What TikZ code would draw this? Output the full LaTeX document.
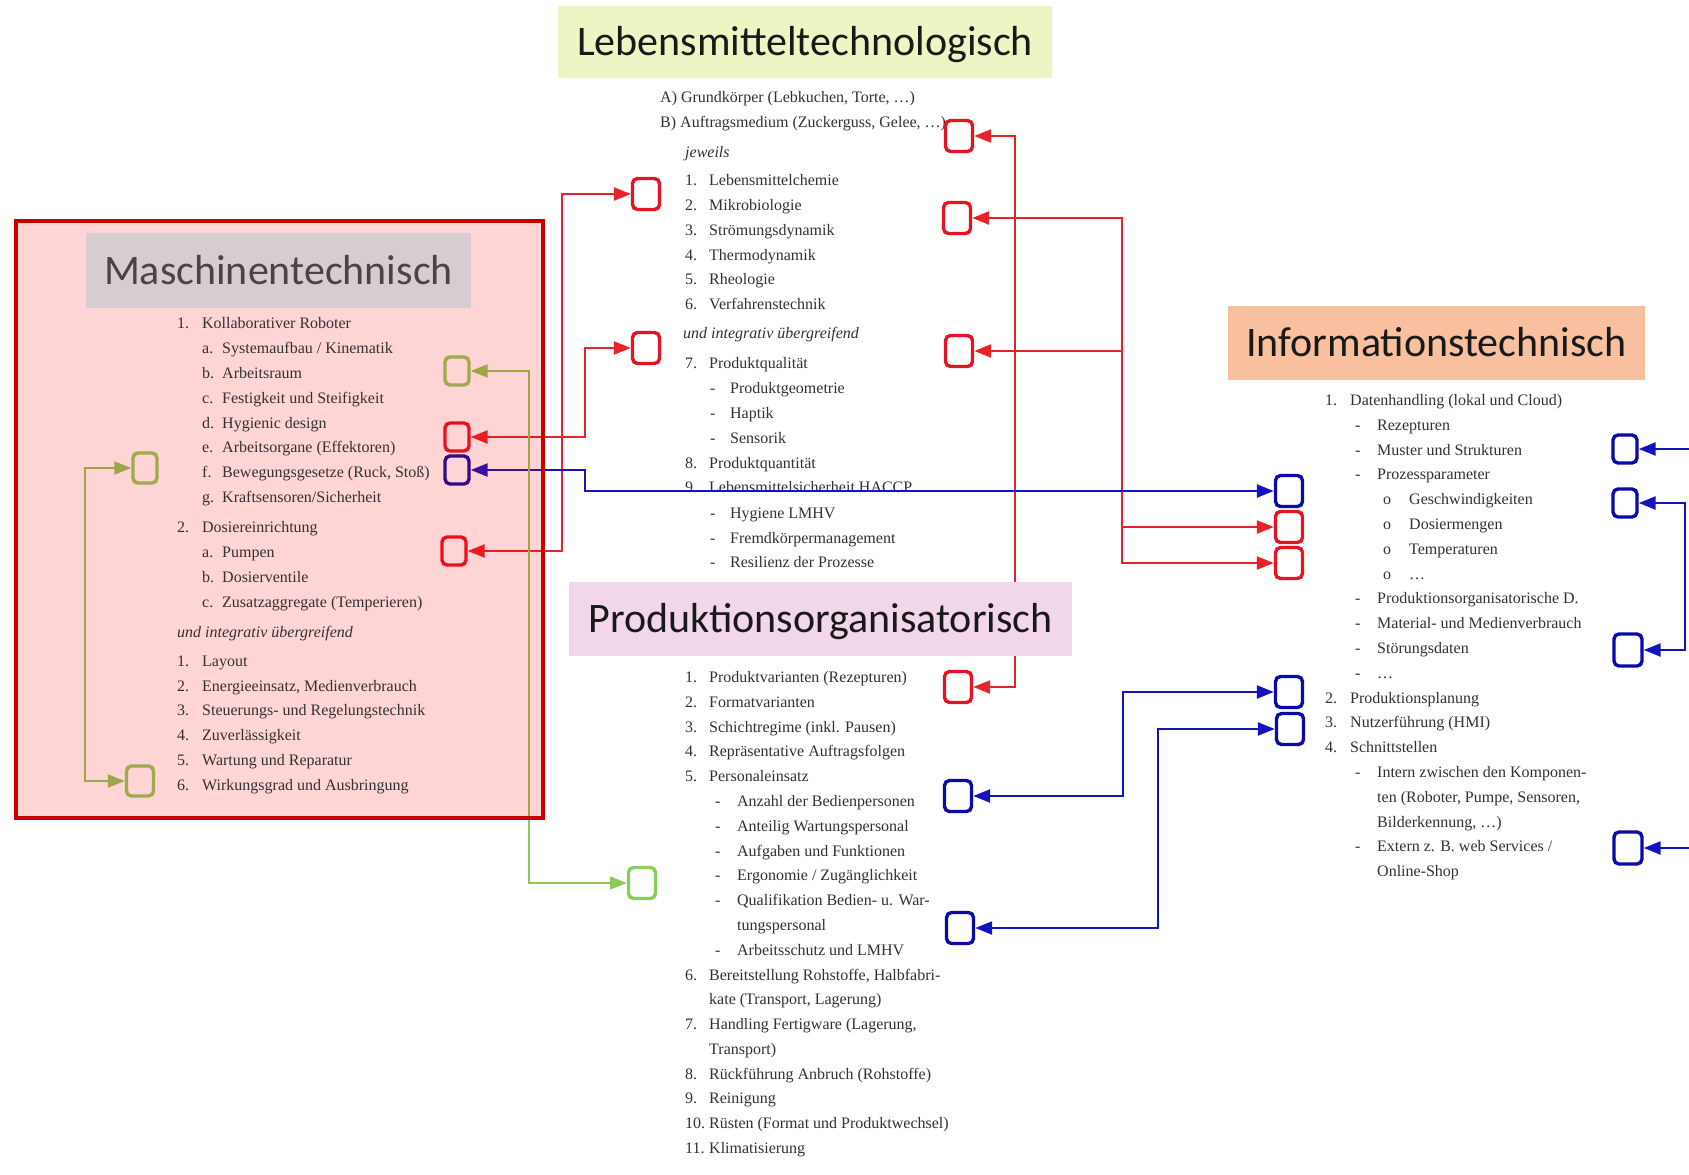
\documentclass[tikz,border=0pt]{standalone}
\usepackage{fontspec}
\setmainfont{Liberation Serif}
\newfontfamily\titlefont{Carlito}
\usetikzlibrary{arrows.meta}
\definecolor{txt}{RGB}{50,50,50}
\definecolor{txtm}{RGB}{92,80,84}
\definecolor{ttxt}{RGB}{25,25,25}
\definecolor{ttxtm}{RGB}{78,66,70}
\definecolor{sqred}{RGB}{228,20,35}
\definecolor{sqblue}{RGB}{10,10,170}
\definecolor{sqgreen}{RGB}{140,205,90}
\definecolor{lnred}{RGB}{232,35,40}
\definecolor{lnblue}{RGB}{20,20,190}
\definecolor{lngreen}{RGB}{140,200,90}
\definecolor{fLeb}{RGB}{236,245,195}
\definecolor{fMas}{RGB}{216,204,211}
\definecolor{fPro}{RGB}{242,215,235}
\definecolor{fInf}{RGB}{248,192,158}
\definecolor{boxred}{RGB}{200,0,0}
\newcommand\txline[6]{\node[lst] (#1) at (#2,#3) {\makebox[#4pt][l]{#5}#6};}
\tikzset{
 lst/.style={anchor=base west, inner sep=0pt, text=txt, font=\fontsize{16}{18}\selectfont},
 lsti/.style={lst, font=\fontsize{16}{18}\selectfont\itshape},
 ttl/.style={inner sep=0pt, text height=27pt, text depth=0pt, text=ttxt, font=\titlefont\fontsize{42}{48}\selectfont},
 sqbox/.style={draw, rounded corners=5pt, line width=3.4pt, fill=white, minimum width=27pt, minimum height=31pt, inner sep=0pt},
 sqsmall/.style={sqbox, minimum width=24pt, minimum height=28pt},
 conn/.style={line width=2.4pt},
 dblarrow/.style={{Triangle[length=17pt,width=13pt]}-{Triangle[length=17pt,width=13pt]}},
 sglarrow/.style={-{Triangle[length=17pt,width=13pt]}},
}
\begin{document}
\begin{tikzpicture}[x=1pt,y=-1pt]
\fill[white] (0,0) rectangle (1689,1175);
\useasboundingbox (0,0) rectangle (1689,1175);

% ---------- Lebensmitteltechnologisch list
\txline{LA}{660}{102}{0}{}{A) Grundkörper (Lebkuchen, Torte, …)}
\txline{LB}{660}{127}{0}{}{B) Auftragsmedium (Zuckerguss, Gelee, …)}
\node[lsti] (Lj) at (685,157) {jeweils};
\txline{L1}{685}{185}{24}{1.}{Lebensmittelchemie}
\txline{L2}{685}{210}{24}{2.}{Mikrobiologie}
\txline{L3}{685}{235}{24}{3.}{Strömungsdynamik}
\txline{L4}{685}{260}{24}{4.}{Thermodynamik}
\txline{L5}{685}{284}{24}{5.}{Rheologie}
\txline{L6}{685}{309}{24}{6.}{Verfahrenstechnik}
\node[lsti] (Lu) at (683,338) {und integrativ übergreifend};
\txline{L7}{685}{368}{24}{7.}{Produktqualität}
\txline{L7a}{710}{393}{20}{-}{Produktgeometrie}
\txline{L7b}{710}{418}{20}{-}{Haptik}
\txline{L7c}{710}{443}{20}{-}{Sensorik}
\txline{L8}{685}{468}{24}{8.}{Produktquantität}
\txline{L9}{685}{492}{24}{9.}{Lebensmittelsicherheit HACCP}
\txline{L9a}{710}{518}{20}{-}{Hygiene LMHV}
\txline{L9b}{710}{543}{20}{-}{Fremdkörpermanagement}
\txline{L9c}{710}{567}{20}{-}{Resilienz der Prozesse}

% ---------- Produktionsorganisatorisch list
\txline{P1}{685}{682}{24}{1.}{Produktvarianten (Rezepturen)}
\txline{P2}{685}{707}{24}{2.}{Formatvarianten}
\txline{P3}{685}{732}{24}{3.}{Schichtregime (inkl. Pausen)}
\txline{P4}{685}{756}{24}{4.}{Repräsentative Auftragsfolgen}
\txline{P5}{685}{781}{24}{5.}{Personaleinsatz}
\txline{P5a}{715}{806}{22}{-}{Anzahl der Bedienpersonen}
\txline{P5b}{715}{831}{22}{-}{Anteilig Wartungspersonal}
\txline{P5c}{715}{856}{22}{-}{Aufgaben und Funktionen}
\txline{P5d}{715}{880}{22}{-}{Ergonomie / Zugänglichkeit}
\txline{P5e}{715}{905}{22}{-}{Qualifikation Bedien- u. War-}
\txline{P5ee}{737}{930}{0}{}{tungspersonal}
\txline{P5f}{715}{955}{22}{-}{Arbeitsschutz und LMHV}
\txline{P6}{685}{980}{24}{6.}{Bereitstellung Rohstoffe, Halbfabri-}
\txline{P6b}{709}{1004}{0}{}{kate (Transport, Lagerung)}
\txline{P7}{685}{1029}{24}{7.}{Handling Fertigware (Lagerung,}
\txline{P7b}{709}{1054}{0}{}{Transport)}
\txline{P8}{685}{1079}{24}{8.}{Rückführung Anbruch (Rohstoffe)}
\txline{P9}{685}{1103}{24}{9.}{Reinigung}
\txline{P10}{685}{1128}{24}{10.}{Rüsten (Format und Produktwechsel)}
\txline{P11}{685}{1153}{24}{11.}{Klimatisierung}

% ---------- Informationstechnisch list
\txline{I1}{1325}{405}{25}{1.}{Datenhandling (lokal und Cloud)}
\txline{I1a}{1355}{430}{22}{-}{Rezepturen}
\txline{I1b}{1355}{455}{22}{-}{Muster und Strukturen}
\txline{I1c}{1355}{479}{22}{-}{Prozessparameter}
\txline{I1c1}{1383}{504}{26}{o}{Geschwindigkeiten}
\txline{I1c2}{1383}{529}{26}{o}{Dosiermengen}
\txline{I1c3}{1383}{554}{26}{o}{Temperaturen}
\txline{I1c4}{1383}{579}{26}{o}{…}
\txline{I1d}{1355}{603}{22}{-}{Produktionsorganisatorische D.}
\txline{I1e}{1355}{628}{22}{-}{Material- und Medienverbrauch}
\txline{I1f}{1355}{653}{22}{-}{Störungsdaten}
\txline{I1g}{1355}{678}{22}{-}{…}
\txline{I2}{1325}{703}{25}{2.}{Produktionsplanung}
\txline{I3}{1325}{727}{25}{3.}{Nutzerführung (HMI)}
\txline{I4}{1325}{752}{25}{4.}{Schnittstellen}
\txline{I4a}{1355}{777}{22}{-}{Intern zwischen den Komponen-}
\txline{I4aa}{1377}{802}{0}{}{ten (Roboter, Pumpe, Sensoren,}
\txline{I4ab}{1377}{827}{0}{}{Bilderkennung, …)}
\txline{I4b}{1355}{851}{22}{-}{Extern z. B. web Services /}
\txline{I4bb}{1377}{876}{0}{}{Online-Shop}

% ---------- squares
\node[sqbox, draw=sqred] (sqLB) at (959,136) {};
\node[sqbox, draw=sqred] (sqL1) at (646,194) {};
\node[sqbox, draw=sqred] (sqR2) at (957,218) {};
\node[sqbox, draw=sqred] (sqL2) at (646,348) {};
\node[sqbox, draw=sqred] (sqR3) at (959,351) {};
\node[sqbox, draw=sqred] (sqPV) at (958,687) {};
\node[sqbox, draw=sqblue] (sqAnz) at (958,796) {};
\node[sqbox, draw=sqblue] (sqQual) at (960,928) {};
\node[sqbox, draw=sqgreen] (sqGP) at (642,883) {};
\node[sqsmall, draw=sqgreen] (sqMb) at (457,371) {};
\node[sqsmall, draw=sqred] (sqMe) at (457,437) {};
\node[sqsmall, draw=sqblue] (sqMf) at (457,470) {};
\node[sqsmall, draw=sqred] (sqMD) at (454,551) {};
\node[sqsmall, draw=sqgreen, minimum height=30pt] (sqGL1) at (145,468) {};
\node[sqsmall, draw=sqgreen, minimum height=30pt, minimum width=27pt] (sqGL2) at (140,781) {};
\node[sqbox, draw=sqblue] (sqIB1) at (1289,491) {};
\node[sqbox, draw=sqred] (sqIR1) at (1289,527) {};
\node[sqbox, draw=sqred] (sqIR2) at (1289,563) {};
\node[sqbox, draw=sqblue] (sqIB2) at (1289,692) {};
\node[sqbox, draw=sqblue] (sqIB3) at (1290,729) {};
\node[sqsmall, draw=sqblue] (sqRB1) at (1625,449) {};
\node[sqsmall, draw=sqblue] (sqRB2) at (1625,503) {};
\node[sqbox, draw=sqblue, minimum width=28pt, minimum height=32pt] (sqRB3) at (1628,650) {};
\node[sqbox, draw=sqblue, minimum width=28pt, minimum height=32pt] (sqRB4) at (1628,848) {};

% ---------- routing columns
\coordinate (xR1) at (1015,0);
\coordinate (xR2) at (562,0);
\coordinate (xR3) at (585,0);
\coordinate (xR4) at (1122,0);
\coordinate (xB2) at (1123,0);
\coordinate (xB3) at (1158,0);
\coordinate (xB5) at (1685,0);
\coordinate (xG1) at (529,0);
\coordinate (xG2) at (85,0);
\coordinate (xEdge) at (1689,0);

% ---------- connectors
\draw[conn, lnred, dblarrow] (sqLB.east) -- (sqLB.east -| xR1) |- (sqPV.east);
\draw[conn, lnred, dblarrow] (sqMD.east) -- (sqMD.east -| xR2) |- (sqL1.west);
\draw[conn, lnred, dblarrow] (sqMe.east) -- (sqMe.east -| xR3) |- (sqL2.west);
\draw[conn, lnred, dblarrow] (sqR2.east) -- (sqR2.east -| xR4) |- (sqIR2.west);
\draw[conn, lnred, dblarrow] (sqR3.east) -- (sqR3.east -| xR4) |- (sqIR1.west);
\draw[conn, lnblue, dblarrow] (sqMf.east) -- (sqMf.east -| xR3) |- (sqIB1.west);
\draw[conn, lnblue, dblarrow] (sqAnz.east) -- (sqAnz.east -| xB2) |- (sqIB2.west);
\draw[conn, lnblue, dblarrow] (sqQual.east) -- (sqQual.east -| xB3) |- (sqIB3.west);
\draw[conn, lnblue, sglarrow] (sqRB1.east -| xEdge) -- (sqRB1.east);
\draw[conn, lnblue, dblarrow] (sqRB2.east) -- (sqRB2.east -| xB5) |- (sqRB3.east);
\draw[conn, lnblue, sglarrow] (sqRB4.east -| xEdge) -- (sqRB4.east);
\draw[conn, lngreen, dblarrow, line width=2pt] (sqMb.east) -- (sqMb.east -| xG1) |- (sqGP.west);
\draw[conn, lngreen, dblarrow, line width=2pt] (sqGL1.west) -- (sqGL1.west -| xG2) |- (sqGL2.west);

% ---------- titles
\node[ttl, fill=fLeb, minimum width=494pt, minimum height=72pt] (tLeb) at (805,42) {Lebensmitteltechnologisch};
\node[ttl, fill=fPro, minimum width=503pt, minimum height=74pt] (tPro) at (820.5,619) {Produktionsorganisatorisch};
\node[ttl, fill=fInf, minimum width=417pt, minimum height=74pt] (tInf) at (1436.5,343) {Informationstechnisch};

% ---------- Maschinentechnisch overlay box
\fill[red, fill opacity=0.17] (16,221) rectangle (543,818);
\node[ttl, fill=fMas, text=ttxtm, minimum width=385pt, minimum height=75pt] (tMas) at (278.5,270.5) {Maschinentechnisch};
\begin{scope}[every node/.append style={text=txtm}]
\txline{M1}{177}{328}{25}{1.}{Kollaborativer Roboter}
\txline{M1a}{202}{353}{20}{a.}{Systemaufbau / Kinematik}
\txline{M1b}{202}{378}{20}{b.}{Arbeitsraum}
\txline{M1c}{202}{403}{20}{c.}{Festigkeit und Steifigkeit}
\txline{M1d}{202}{428}{20}{d.}{Hygienic design}
\txline{M1e}{202}{452}{20}{e.}{Arbeitsorgane (Effektoren)}
\txline{M1f}{202}{477}{20}{f.}{Bewegungsgesetze (Ruck, Stoß)}
\txline{M1g}{202}{502}{20}{g.}{Kraftsensoren/Sicherheit}
\txline{M2}{177}{532}{25}{2.}{Dosiereinrichtung}
\txline{M2a}{202}{557}{20}{a.}{Pumpen}
\txline{M2b}{202}{582}{20}{b.}{Dosierventile}
\txline{M2c}{202}{607}{20}{c.}{Zusatzaggregate (Temperieren)}
\node[lsti] (Mu) at (177,637) {und integrativ übergreifend};
\txline{MI1}{177}{666}{25}{1.}{Layout}
\txline{MI2}{177}{691}{25}{2.}{Energieeinsatz, Medienverbrauch}
\txline{MI3}{177}{715}{25}{3.}{Steuerungs- und Regelungstechnik}
\txline{MI4}{177}{740}{25}{4.}{Zuverlässigkeit}
\txline{MI5}{177}{765}{25}{5.}{Wartung und Reparatur}
\txline{MI6}{177}{790}{25}{6.}{Wirkungsgrad und Ausbringung}
\end{scope}
\draw[boxred, line width=4pt] (16,221) rectangle (543,818);
\end{tikzpicture}
\end{document}
